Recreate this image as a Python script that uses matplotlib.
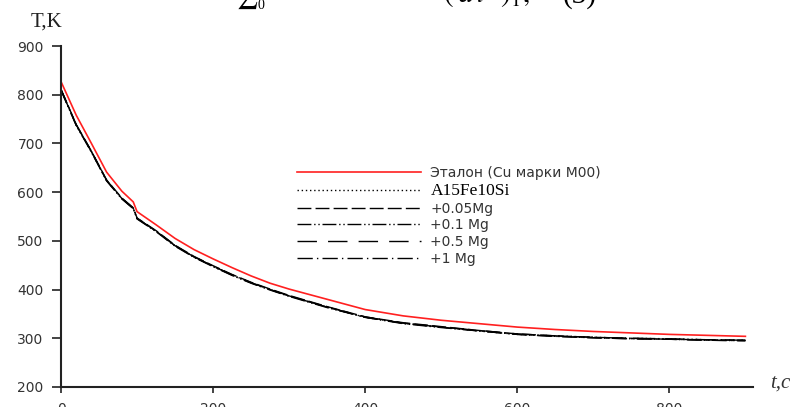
import matplotlib.pyplot as plt

plt.rcParams["mathtext.fontset"] = "stix"

# time, s
t = [0, 20, 40, 60, 80, 95, 100, 125, 150, 175, 200, 225, 250, 275, 300, 350,
     400, 450, 500, 550, 600, 650, 700, 750, 800, 850, 900]

# reference sample (red)
etalon = [827, 758, 700, 641, 602, 580, 560, 533, 505, 482, 463, 445, 428, 413, 401, 380,
          359, 346, 337, 330, 323, 318, 314, 311, 308, 306, 304]
# alloys (black, practically on top of each other)
al15fe10si = [810, 738, 683, 624, 587, 567, 546, 520, 490, 467, 448, 430, 414, 400, 387, 364,
              343, 331, 323, 315, 308, 305, 302, 300, 299, 297, 296]
mg005 = [811, 739, 684, 625, 588, 568, 547, 521, 491, 468, 449, 431, 415, 401, 388, 365,
         344, 332, 324, 316, 309, 305, 302, 300, 298, 297, 296]
mg01 = [809, 737, 682, 623, 586, 566, 545, 519, 489, 466, 447, 429, 413, 399, 386, 363,
        343, 330, 322, 315, 308, 304, 301, 299, 298, 296, 295]
mg05 = [810, 738, 683, 624, 587, 567, 546, 520, 490, 467, 448, 430, 414, 400, 387, 364,
        344, 331, 323, 316, 309, 305, 302, 300, 299, 297, 296]
mg1 = [811, 738, 684, 624, 587, 567, 546, 520, 490, 467, 448, 430, 414, 400, 387, 364,
       343, 331, 323, 315, 308, 304, 301, 299, 298, 296, 295]

labels = ["Эталон (Cu марки М00)", "A15Fe10Si", "+0.05Mg", "+0.1 Mg", "+0.5 Mg", "+1 Mg"]

fig = plt.figure(figsize=(7.98, 4.07), dpi=100)
ax = fig.add_axes([61 / 798, 1 - 387 / 407, (753 - 61) / 798, (387 - 46) / 407])

ax.plot(t, etalon, color="#ff2020", lw=1.2, label=labels[0])
ax.plot(t, al15fe10si, color="black", lw=1.0, dashes=(1, 2), label=labels[1])
ax.plot(t, mg005, color="black", lw=1.0, dashes=(10, 3), label=labels[2])
ax.plot(t, mg01, color="black", lw=1.0, dashes=(10, 2, 1, 2, 1, 2), label=labels[3])
ax.plot(t, mg05, color="black", lw=1.0, dashes=(14, 8), label=labels[4])
ax.plot(t, mg1, color="black", lw=1.0, dashes=(11, 3, 1, 3), label=labels[5])

ax.set_xlim(0, 910)
ax.set_ylim(200, 900)
ax.set_xticks([0, 200, 400, 600, 800])
ax.set_yticks(range(200, 1000, 100))
for s in ["top", "right"]:
    ax.spines[s].set_visible(False)
for s in ["left", "bottom"]:
    ax.spines[s].set_linewidth(1.5)
    ax.spines[s].set_color("#222222")
ax.tick_params(direction="out", width=1.2, color="#222222",
               labelsize=10, labelcolor="#333333")
ax.tick_params(axis="y", length=6.5, pad=6)
ax.tick_params(axis="x", length=4, pad=6.5)

fig.text(31 / 798, 1 - 22 / 407, "T,K", family="Liberation Serif", fontsize=15,
         va="center", ha="left", color="#222222")
fig.text(770 / 798, 1 - 383 / 407, "t,c", family="Liberation Serif", style="italic",
         fontsize=15, va="center", ha="left", color="#333333")

# bottom edge of the formula line above the chart (cut off in the page scan)
fig.text(236 / 798, 1 - 3 / 407, r"$\sum$", fontsize=17, va="baseline", ha="left")
fig.text(258 / 798, 1 - 9 / 407, "0", family="Liberation Serif", fontsize=10,
         va="baseline", ha="left")
fig.text(443 / 798, 1 - 3 / 407, r"$(\;d\,t^{\prime}\;)_{1},$", fontsize=21,
         va="baseline", ha="left")
fig.text(563 / 798, 1 - 3 / 407, "(3)", family="Liberation Serif", fontsize=21,
         va="baseline", ha="left")

leg = ax.legend(loc="upper left", bbox_to_anchor=((297 - 61) / 692, (387 - 166) / 341),
                frameon=False, handlelength=8.9, handletextpad=0.7, labelspacing=0.2,
                borderaxespad=0, borderpad=0, prop={"size": 10})
for i, txt in enumerate(leg.get_texts()):
    txt.set_color("#333333")
    if i == 1:
        txt.set_family("Liberation Serif")
        txt.set_fontsize(12.5)
        txt.set_color("black")

fig.savefig("out.png", dpi=100)
